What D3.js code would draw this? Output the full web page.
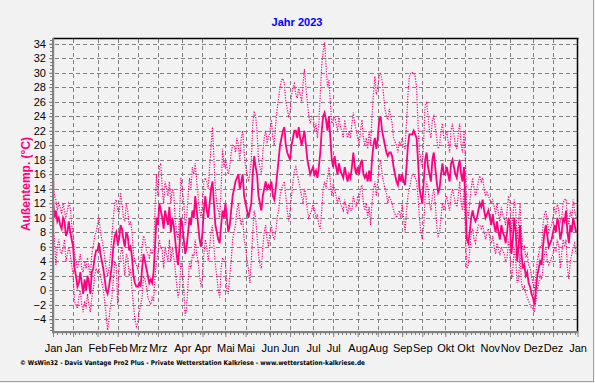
<!DOCTYPE html>
<html><head><meta charset="utf-8">
<script src="https://cdn.jsdelivr.net/npm/d3@7"></script>
<style>html,body{margin:0;padding:0;background:#f2f2f2;}svg{display:block;}</style>
</head><body>
<script>
const title = "Jahr 2023";
const yLabel = "Außentemp. (°C)";
const footer = "© WsWin32 - Davis Vantage Pro2 Plus - Private Wetterstation Kalkriese - www.wetterstation-kalkriese.de";
const monthNames = ["Jan","Feb","Mrz","Apr","Mai","Jun","Jul","Aug","Sep","Okt","Nov","Dez"];
const yTicks = [-4,-2,0,2,4,6,8,10,12,14,16,18,20,22,24,26,28,30,32,34];

const meanJan=[12.5,10,11,9.5,10,9,8.5,10,9.5,7.5,8,9.5,8,7,6,3,2,0.5,1,2.5,1,-0.5,1.5,0,2,1,-0.5,2.5,3,4.5,5.5];
const maxJan=[16.5,13,12.5,11,12,11.5,10.5,12,11,10,11,12,11.5,9,7.5,5,4,3,4,5,3,2.5,4,3,4.5,3,2,5,6,7.5,8];
const minJan=[9,7,3.5,6,7,5.5,5,6,7,4,5,6,5,3.5,2,-1.5,-2,-2.5,-1,0,-2,-3,-1.5,-2.5,-0.5,-2,-3,-1,0,2,3];
const meanFeb=[5.5,6.5,5,4,3,1.5,0,-0.5,0.5,2,3.5,6,7.5,8,6.5,7,9,8.5,7,6,8,7.5,5.5,6,4.5,2,1,0.5];
const maxFeb=[9,10,8,7,6,4.5,3,2,3,5,7.5,10,12,12.5,11,10.5,13.5,12,10,9.5,12,11,9,9.5,8,5,4,3.5];
const minFeb=[2.5,3,2,1,0,-1.5,-3.5,-5.5,-4,-2,-1,1.5,4,3.5,-2,3,5,6,4,2,5,4.5,2,3,0,-2,-4,-5];
const meanMar=[0.5,1,0.5,3,5,4,3,2,1,1.5,1,2.5,6,10,9,12,11,10,8.5,11,10,9,11.5,8,10,9,7,5,3.5,6,10];
const maxMar=[3,4,4,6,7.5,7,5.5,5,4.5,5.5,5,6,11,16,13,17,17.5,14,12,15,14,13,15,12,14,13.5,10,8,7,10,15.5];
const minMar=[-4.5,-3,-2,-1,2,1.5,0.5,-1,-1.5,-2,-1,-1.5,2,4,5,7,6,5.5,3,6,5,4,7,4,6,4.5,3,1,-1,0,4];
const meanApr=[9,7,5,6,8,10,9,11,10,13,11,9,7,6,8,11,13,11,10,12,14,15,12,9,8,7,6.5,9,11,10];
const maxApr=[14,12,9,10,13,15.5,14,17,16,17.5,15,13,11,10,12,15,15.5,15,14,17,20,22.5,18,14,12,11,10,14,19.5,17];
const minApr=[3,0,-3.5,-2.5,1,4,3,5,4.5,7,5,4,2,0.5,1.5,5,7,6,4,6,8,9,6,3.5,2,0,-1,3,4.5,4];
const meanMay=[12,10,8,9,11,13,14,15,15.5,16,14,15,16,13,12,11,10,11,12,16,18.5,17,16,13,12,11,13,14,15,14,14.5];
const maxMay=[18,17,16,17,19,20,20,19,21,20,18,21,22,19,17,16,15,16,18,23,24.5,24,22,18,17,16,19,21,22,20.5,21];
const minMay=[4,0,-0.5,2,4,7,8,9,11,12,10,9,10,7,6,4,3,1,4,8,11,10,7.5,5,3.5,3,6,8,9,7,6];
const meanJun=[14,15,13,12.5,14,16,18,20,21,22,22.5,20,19,18.5,18,20,21,22,22,21,22.5,21,20,21,22,20,18,17,16,16.5];
const maxJun=[22,23.5,21,20,23,25,26.5,28,29,29.2,28.5,26,25,24,24.5,27,28,28.5,27,26.5,28,27,26,28.5,30.5,28,26,24,23,24];
const minJun=[8,9,7.5,7,8,10,11,13,14,14.5,15,13,11,9.5,11,13,15,16.5,17,16,15,14,13,12,14,13,11,10,10.5,11];
const meanJul=[17,16,16.5,15.5,17,19,22,24,24.5,23.5,22,24,21,18,17,18.5,17,16,17.5,16.5,16,15.5,17,16,15,16,15.5,17,19,17,16];
const maxJul=[24,22,23,21,23,27,31,33,34.2,31,28,29,26,23,23.5,24,23,22,24,22.5,22,21,23.5,22,21,22,21,23,24.5,23,22];
const minJul=[12,11,10,10.5,9,8.5,11,14,15,14,15.5,17,15,13,14.5,14,13,12,13,12,11.5,11,12.5,11.5,10.5,12,11,11,13,12,11.5];
const meanAug=[17,16,17.5,18,16,15.5,16,15,16.5,15,18,20,21,19.5,21,23.5,24,22,21,20,19,18.5,19,19,18.5,17,16,15,14.5,16,15];
const maxAug=[21,20,22,23.5,21,20,21,19.5,22,20,24,27,29.5,27,28,29.5,30,29,27,25,24,23.5,25,24,23,21,20.5,20,19,20.5,20];
const minAug=[13,12.5,14,14.5,12,11,12,10,11.5,9,12,14,15,13,15,17,18,16,15,14,13.5,12,13,12.5,12,11,10.5,10,10.5,11,10];
const meanSep=[16,15,14.5,17,20,21.5,21.5,21.5,22,21.5,21,18,14,13,12,15,18,19,17,16,15,18,19,17,15,13.5,14,16,17.5,16];
const maxSep=[21,20,19.5,23,27,29.5,30,30,30,29.5,28,23,19,18,17,21,25.5,26,24,22,21,23.5,24,22.5,21,19.5,20,22,23,21];
const minSep=[12,10,8,11,13,14,15,16,16,15.5,15,13,10,8,7,9,13,15,14,12,11,13,14,12,9,7.5,8,10,12,11];
const meanOct=[16,17,16,15,17.5,18,17,16,15.5,17,18,16,15,17,12,7,6.5,8,10,11,10,9.5,10,11,12,11.5,12.5,11,10,10.5,11];
const maxOct=[21,22,20.5,19,22,23,21.5,20,19.5,21.5,23,20,19,22,18,11,10,12,14,15.5,14,13,14,15,15.8,15,15.5,14,13,13.5,13];
const minOct=[12,13,12,11,13,14,13,12,11.5,13,15,12,11,14,8,3,3.5,5.5,8,8.5,7,6.5,8,9,9,8.5,9,8,7,8,8.5];
const meanNov=[10,9,10.5,9,8,9.5,8,7,9,8,7.5,6.5,8,10,9,5,7,10,8,4,6,9,5,3,3.5,2,2.5,1,0.5,-0.5];
const maxNov=[12.5,12,12.6,11.5,10.5,12,10.5,9.5,11.5,10.5,10,9,11,13,12,8,10,12.5,11,7,9,12,8,5.5,6,4.5,5,3.5,3,2];
const minNov=[7,6.5,7.5,6,5,6.5,5.5,5,6,5.5,5,4,4.5,7,5,1.5,3,6,4,1,1.5,5,1,0,0.5,-0.5,-1,-1.5,-2,-2.5];
const meanDec=[-1,-2,0,2,3,4,3.5,6,8,9,7.5,6,6.5,7,8,9,8,10,9,7,8,10,9.5,11,8,6.5,9,8,10,9,8];
const maxDec=[1,0,2,4,5,6,6,9,10.5,11,9.5,8,8.5,9,10,11.5,10.5,12,11,9.5,10,12,12.5,12.6,10,9,11,10,12.5,11,10];
const minDec=[-2.5,-3,-1.5,0,1,2,1.5,3,5,6,4,3.5,4,4.5,5,6,5.5,7,6,3,5,7,6,7,3,1.5,4,5,6,6.5,5];

const meanAll=[].concat(meanJan,meanFeb,meanMar,meanApr,meanMay,meanJun,meanJul,meanAug,meanSep,meanOct,meanNov,meanDec);
const maxAll=[].concat(maxJan,maxFeb,maxMar,maxApr,maxMay,maxJun,maxJul,maxAug,maxSep,maxOct,maxNov,maxDec);
const minAll=[].concat(minJan,minFeb,minMar,minApr,minMay,minJun,minJul,minAug,minSep,minOct,minNov,minDec);

(function(){
const W=595,H=383;
const svg=d3.select("body").append("svg").attr("width",W).attr("height",H);
svg.append("rect").attr("width",W).attr("height",H).attr("fill","#f2f2f2");

const pL=53, pR=577.5, pT=38, pB=332;
const x=d3.scaleUtc().domain([new Date(Date.UTC(2023,0,1)),new Date(Date.UTC(2024,0,1))]).range([pL,pR]);
const y=d3.scaleLinear().domain([-4,34]).range([319.3,43.7]);
const dayDate=i=>new Date(Date.UTC(2023,0,1+i));

const tickDates=[];
for(let m=0;m<12;m++){tickDates.push(new Date(Date.UTC(2023,m,1)));tickDates.push(new Date(Date.UTC(2023,m,15)));}
tickDates.push(new Date(Date.UTC(2024,0,1)));

const grid=svg.append("g").attr("stroke","#808080").attr("stroke-width",1).attr("stroke-dasharray","4,3").attr("shape-rendering","crispEdges");
yTicks.forEach(v=>{grid.append("line").attr("x1",pL+2).attr("x2",pR).attr("y1",Math.round(y(v))+0.5).attr("y2",Math.round(y(v))+0.5);});
tickDates.slice(1,-1).forEach(d=>{const xx=Math.round(x(d))+0.5;grid.append("line").attr("x1",xx).attr("x2",xx).attr("y1",pT+1).attr("y2",pB-1);});

const line=d3.line().x((d,i)=>x(dayDate(i))).y(d=>y(d));
const col="#ff0080";
svg.append("path").datum(maxAll).attr("d",line).attr("fill","none").attr("stroke",col).attr("stroke-width",1.2).attr("stroke-dasharray","1.2,1.4");
svg.append("path").datum(minAll).attr("d",line).attr("fill","none").attr("stroke",col).attr("stroke-width",1.2).attr("stroke-dasharray","1.2,1.4");
svg.append("path").datum(meanAll).attr("d",line).attr("fill","none").attr("stroke",col).attr("stroke-width",1.8);

svg.append("line").attr("x1",pL).attr("x2",pR+1).attr("y1",38.5).attr("y2",38.5).attr("stroke","#000").attr("stroke-width",1.5);
svg.append("line").attr("x1",pR).attr("x2",pR).attr("y1",38).attr("y2",pB).attr("stroke","#000").attr("stroke-width",1.5);
svg.append("rect").attr("x",52).attr("y",38).attr("width",2.2).attr("height",pB+1-38).attr("fill","#808080");
svg.append("rect").attr("x",52).attr("y",331).attr("width",pR-52+1).attr("height",2.2).attr("fill","#808080");

const yAxis=d3.axisLeft(y).tickValues(yTicks).tickSize(3).tickPadding(3).tickFormat(d3.format("d"));
const ga=svg.append("g").attr("transform",`translate(${pL-1},0)`).call(yAxis);
ga.select(".domain").remove();
ga.selectAll("line").attr("stroke","#808080");
ga.selectAll("text").attr("font-family","Arial, 'Liberation Sans', sans-serif").attr("font-size","11px").attr("fill","#000");
const minorY=d3.range(-5.5,34.6,0.5);
svg.append("g").selectAll("line").data(minorY).join("line").attr("x1",pL-3).attr("x2",pL-1).attr("y1",d=>Math.round(y(d))+0.5).attr("y2",d=>Math.round(y(d))+0.5).attr("stroke","#808080");

const xAxis=d3.axisBottom(x).tickValues(tickDates).tickSize(4).tickPadding(7).tickFormat(d=>monthNames[d.getUTCMonth()]);
const gx=svg.append("g").attr("transform",`translate(0,${pB+1})`).call(xAxis);
gx.select(".domain").remove();
gx.selectAll("line").attr("stroke","#808080");
gx.selectAll("text").attr("font-family","Arial, 'Liberation Sans', sans-serif").attr("font-size","11px").attr("fill","#000");
const minorX=d3.range(0,366,3).map(dayDate);
svg.append("g").selectAll("line").data(minorX).join("line").attr("x1",d=>Math.round(x(d))+0.5).attr("x2",d=>Math.round(x(d))+0.5).attr("y1",pB+1).attr("y2",pB+3).attr("stroke","#808080");

svg.append("text").attr("x",297).attr("y",26).attr("text-anchor","middle").attr("font-family","Arial, 'Liberation Sans', sans-serif").attr("font-weight","bold").attr("font-size","11px").attr("fill","#0000ff").text(title);
svg.append("text").attr("transform","translate(30,184) rotate(-90)").attr("text-anchor","middle").attr("font-family","Arial, 'Liberation Sans', sans-serif").attr("font-weight","bold").attr("font-size","12px").attr("fill",col).text(yLabel);
svg.append("text").attr("x",20).attr("y",365).attr("font-family","'DejaVu Sans', Verdana, sans-serif").attr("font-weight","bold").attr("font-size","6.5px").attr("fill","#000").attr("textLength",345).attr("lengthAdjust","spacingAndGlyphs").text(footer);

svg.append("line").attr("x1",593.5).attr("x2",593.5).attr("y1",0).attr("y2",382).attr("stroke","#a0a0a0");
svg.append("line").attr("x1",0).attr("x2",594).attr("y1",381.5).attr("y2",381.5).attr("stroke","#a0a0a0");
})();
</script>
</body></html>
